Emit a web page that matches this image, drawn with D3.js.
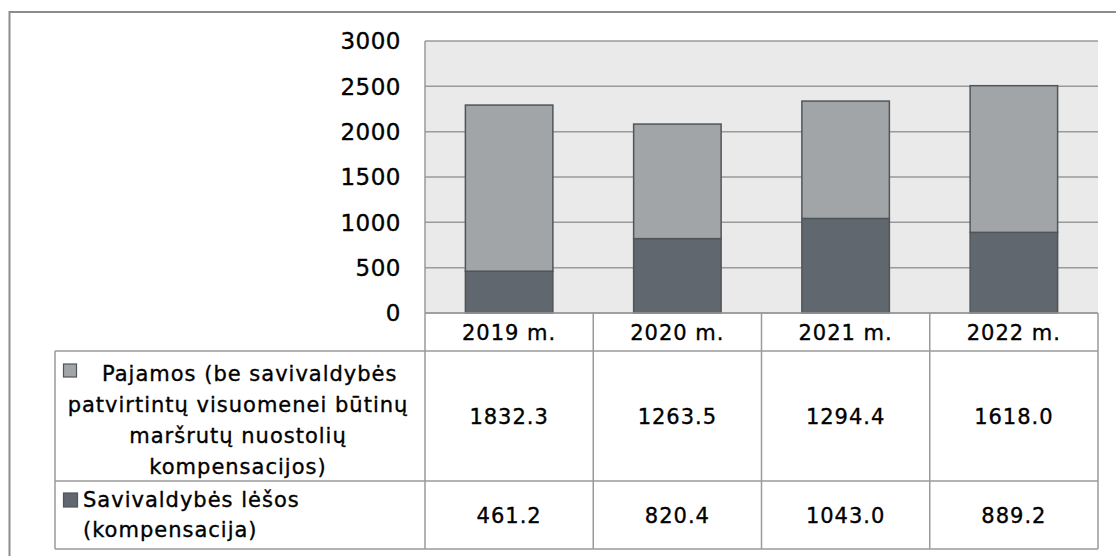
<!DOCTYPE html>
<html>
<head>
<meta charset="utf-8">
<script src="https://cdn.jsdelivr.net/npm/d3@7"></script>
<style>
	body { margin: 0; background: #fff; }
	text { font-family: "DejaVu Sans", sans-serif; fill: #000; stroke: #000; stroke-width: 0.35px; }
	.grid line { stroke: #9a9a9a; stroke-width: 1.5; }
	.tbl { stroke: #9a9a9a; stroke-width: 1.5; }
</style>
</head>
<body>
<svg id="chart" width="1116" height="556"></svg>
<script>
// data
var years = ["2019 m.", "2020 m.", "2021 m.", "2022 m."];
var pajamos = [1832.3, 1263.5, 1294.4, 1618.0];
var savivaldybes = [461.2, 820.4, 1043.0, 889.2];
var yTicks = [0, 500, 1000, 1500, 2000, 2500, 3000];
var pajamosLabel = ["Pajamos (be savivaldybės", "patvirtintų visuomenei būtinų", "maršrutų nuostolių", "kompensacijos)"];
var savLabel = ["Savivaldybės lėšos", "(kompensacija)"];

var colPaj = "#a2a5a8",
	colSav = "#61676e",
	barEdge = "#50555a";

var svg = d3.select("#chart");

// plot area
var plotL = 425, plotR = 1098, plotT = 41, plotB = 313;
var tblLeft = 55, hdrBottom = 351, rowSep = 481, tblBottom = 549;

var x = d3.scaleBand()
	.domain(years)
	.range([plotL, plotR])
	.paddingInner(0.48)
	.paddingOuter(0.24);

var y = d3.scaleLinear()
	.domain([0, 3000])
	.range([plotB, plotT]);

// outer frame (only left/top visible)
svg.append("rect")
	.attr("x", 9.5)
	.attr("y", 12)
	.attr("width", 1200)
	.attr("height", 700)
	.attr("fill", "none")
	.attr("stroke", "#8c8c8c")
	.attr("stroke-width", 2);

// plot background
svg.append("rect")
	.attr("x", plotL)
	.attr("y", plotT)
	.attr("width", plotR - plotL)
	.attr("height", plotB - plotT)
	.attr("fill", "#e9eae9");

// gridlines
svg.append("g")
	.classed("grid", true)
	.selectAll("line")
	.data(yTicks)
	.enter()
	.append("line")
	.attr("x1", plotL)
	.attr("x2", plotR)
	.attr("y1", d => y(d))
	.attr("y2", d => y(d));

// y tick labels
svg.append("g")
	.selectAll("text")
	.data(yTicks)
	.enter()
	.append("text")
	.attr("x", 401)
	.attr("y", d => y(d))
	.attr("dy", "0.36em")
	.attr("text-anchor", "end")
	.style("font-size", "23px")
	.style("letter-spacing", "0.5px")
	.text(d => d);

// stacked bars
var stackData = years.map((yr, i) => ({ year: yr, sav: savivaldybes[i], paj: pajamos[i] }));

var bars = svg.append("g")
	.selectAll("g")
	.data(stackData)
	.enter()
	.append("g");

bars.append("rect")
	.attr("x", d => x(d.year))
	.attr("width", x.bandwidth())
	.attr("y", d => y(d.sav))
	.attr("height", d => y(0) - y(d.sav))
	.attr("fill", colSav)
	.attr("stroke", barEdge)
	.attr("stroke-width", 1.5);

bars.append("rect")
	.attr("x", d => x(d.year))
	.attr("width", x.bandwidth())
	.attr("y", d => y(d.sav + d.paj))
	.attr("height", d => y(d.sav) - y(d.sav + d.paj))
	.attr("fill", colPaj)
	.attr("stroke", barEdge)
	.attr("stroke-width", 1.5);

// data table
var tbl = svg.append("g");
var step = x.step();
var colEdges = d3.range(years.length + 1).map(i => plotL + i * step);

// horizontal lines
tbl.append("line").classed("tbl", true)
	.attr("x1", plotL).attr("x2", plotR).attr("y1", plotB).attr("y2", plotB);
[hdrBottom, rowSep, tblBottom].forEach(function(yy) {
	tbl.append("line").classed("tbl", true)
		.attr("x1", tblLeft).attr("x2", plotR).attr("y1", yy).attr("y2", yy);
});

// vertical lines
tbl.append("line").classed("tbl", true)
	.attr("x1", tblLeft).attr("x2", tblLeft).attr("y1", hdrBottom).attr("y2", tblBottom);
tbl.append("line").classed("tbl", true)
	.attr("x1", plotL).attr("x2", plotL).attr("y1", plotT).attr("y2", tblBottom);
colEdges.slice(1).forEach(function(xx) {
	tbl.append("line").classed("tbl", true)
		.attr("x1", xx).attr("x2", xx).attr("y1", plotB).attr("y2", tblBottom);
});

var cellFont = "21px",
	cellSpacing = "1px";

// header row
tbl.selectAll(".hdr")
	.data(years)
	.enter()
	.append("text")
	.classed("hdr", true)
	.attr("x", d => x(d) + x.bandwidth() / 2)
	.attr("y", (plotB + hdrBottom) / 2)
	.attr("dy", "0.36em")
	.attr("text-anchor", "middle")
	.style("font-size", cellFont)
	.style("letter-spacing", cellSpacing)
	.text(d => d);

var fmt = d3.format(".1f");

// value rows
tbl.selectAll(".v1")
	.data(pajamos)
	.enter()
	.append("text")
	.attr("x", (d, i) => x(years[i]) + x.bandwidth() / 2)
	.attr("y", (hdrBottom + rowSep) / 2)
	.attr("dy", "0.36em")
	.attr("text-anchor", "middle")
	.style("font-size", cellFont)
	.style("letter-spacing", cellSpacing)
	.text(d => fmt(d));

tbl.selectAll(".v2")
	.data(savivaldybes)
	.enter()
	.append("text")
	.attr("x", (d, i) => x(years[i]) + x.bandwidth() / 2)
	.attr("y", (rowSep + tblBottom) / 2)
	.attr("dy", "0.36em")
	.attr("text-anchor", "middle")
	.style("font-size", cellFont)
	.style("letter-spacing", cellSpacing)
	.text(d => fmt(d));

// legend cells
var lineH = 31;
var centerX = 238;

// first line: key square + text, lines below centred
tbl.append("rect")
	.attr("x", tblLeft + 8.5)
	.attr("y", 364)
	.attr("width", 13)
	.attr("height", 13)
	.attr("fill", colPaj)
	.attr("stroke", barEdge)
	.attr("stroke-width", 1.2);

pajamosLabel.forEach(function(t, i) {
	tbl.append("text")
		.attr("x", i == 0 ? tblLeft + 47 : centerX)
		.attr("y", 373 + i * lineH)
		.attr("dy", "0.36em")
		.attr("text-anchor", i == 0 ? "start" : "middle")
		.style("font-size", cellFont)
		.style("letter-spacing", cellSpacing)
		.text(t);
});

tbl.append("rect")
	.attr("x", tblLeft + 8.5)
	.attr("y", 493)
	.attr("width", 14)
	.attr("height", 14)
	.attr("fill", colSav)
	.attr("stroke", barEdge)
	.attr("stroke-width", 1.2);

savLabel.forEach(function(t, i) {
	tbl.append("text")
		.attr("x", tblLeft + 28)
		.attr("y", 499 + i * 30)
		.attr("dy", "0.36em")
		.style("font-size", cellFont)
		.style("letter-spacing", cellSpacing)
		.text(t);
});
</script>
</body>
</html>
